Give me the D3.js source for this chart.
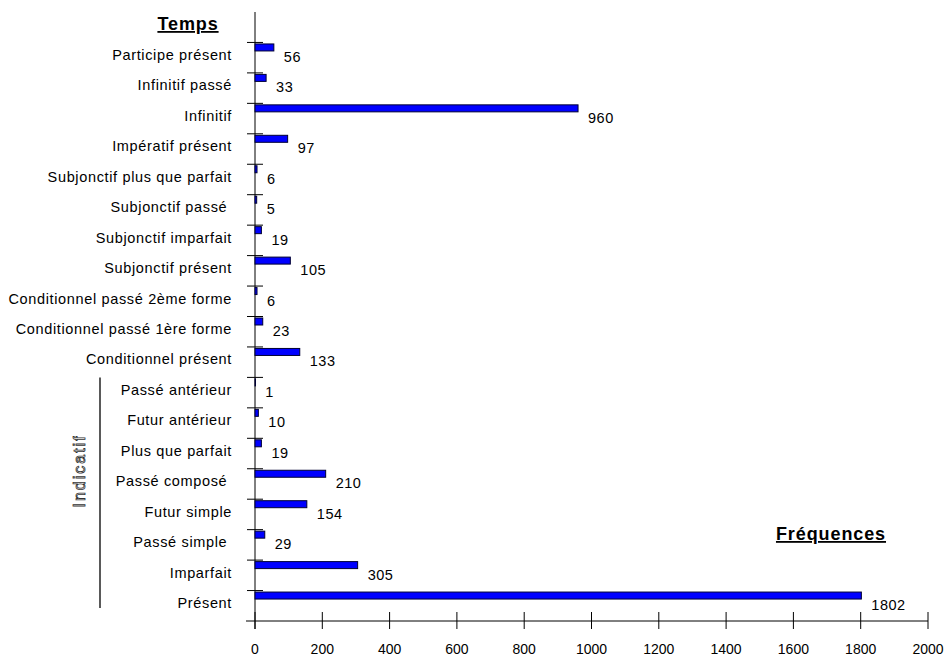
<!DOCTYPE html>
<html><head><meta charset="utf-8">
<script src="https://cdn.jsdelivr.net/npm/d3@7"></script>
<style>
body{margin:0;background:#fff;}
text{font-family:"Liberation Sans",Arial,sans-serif;}
</style></head>
<body>
<svg id="c" width="947" height="659"></svg>
<script>
// categories from bottom to top
const categories = ["Présent","Imparfait","Passé simple ","Futur simple","Passé composé ","Plus que parfait","Futur antérieur","Passé antérieur","Conditionnel présent","Conditionnel passé 1ère forme","Conditionnel passé 2ème forme","Subjonctif présent","Subjonctif imparfait","Subjonctif passé ","Subjonctif plus que parfait","Impératif présent","Infinitif","Infinitif passé","Participe présent"];
const values = [1802,305,29,154,210,19,10,1,133,23,6,105,19,5,6,97,960,33,56];
const xTicks = [0,200,400,600,800,1000,1200,1400,1600,1800,2000];

const svg = d3.select("#c");
const x0 = 255, x1 = 928, yTop = 12, yBot = 621;
const x = d3.scaleLinear().domain([0,2000]).range([x0,x1]);
// 20 bands: the 19 categories plus an empty top band
const bandKeys = categories.concat(["__top"]);
const y = d3.scaleBand().domain(bandKeys.slice().reverse()).range([yTop,yBot]).paddingInner(0).paddingOuter(0);
const bw = y.bandwidth();

// y axis line
svg.append("line").attr("x1",x0).attr("x2",x0).attr("y1",yTop).attr("y2",yBot+8).attr("stroke","#000");
// category ticks at band tops
svg.append("g").selectAll("line").data(categories).join("line")
  .attr("x1",x0-8).attr("x2",x0+8)
  .attr("y1",d=>y(d)).attr("y2",d=>y(d)).attr("stroke","#000");
// x axis
svg.append("line").attr("x1",x0-9).attr("x2",x1).attr("y1",yBot).attr("y2",yBot).attr("stroke","#000");
svg.append("g").selectAll("line").data(xTicks).join("line")
  .attr("x1",d=>x(d)).attr("x2",d=>x(d)).attr("y1",yBot-9).attr("y2",yBot+8).attr("stroke","#000");
svg.append("g").selectAll("text").data(xTicks).join("text")
  .attr("x",d=>x(d)).attr("y",654).attr("text-anchor","middle").attr("font-size",14).text(d=>d);

// bars
svg.append("g").selectAll("rect").data(categories).join("rect")
  .attr("x",x0).attr("y",(d)=>y(d)+1.5)
  .attr("width",(d,i)=>Math.max(x(values[i])-x0,0.5)).attr("height",7)
  .attr("fill","#0000ff").attr("stroke","#000033").attr("stroke-width",1);
// value labels
svg.append("g").selectAll("text").data(categories).join("text")
  .attr("x",(d,i)=>x(values[i])+10).attr("y",d=>y(d)+19.5)
  .attr("font-size",14.5).attr("letter-spacing",0.5).text((d,i)=>values[i]);
// category labels
svg.append("g").selectAll("text").data(categories).join("text")
  .attr("x",232).attr("y",d=>y(d)+17.5).attr("text-anchor","end")
  .attr("font-size",14.5).attr("letter-spacing",0.65).style("white-space","pre").text(d=>d);

// titles
svg.append("text").attr("x",188).attr("y",30).attr("text-anchor","middle")
  .attr("font-size",18).attr("letter-spacing",0.9).attr("font-weight","bold").attr("text-decoration","underline").text("Temps");
svg.append("text").attr("x",831).attr("y",540).attr("text-anchor","middle")
  .attr("font-size",18).attr("letter-spacing",0.9).attr("font-weight","bold").attr("text-decoration","underline").text("Fréquences");

// Indicatif bracket
const indTop = y("Passé antérieur"), indBot = y("Présent")+bw;
svg.append("line").attr("x1",100).attr("x2",100).attr("y1",indTop).attr("y2",608).attr("stroke","#000").attr("stroke-width",1.3);
svg.append("text").attr("transform",`translate(85,471) rotate(-90)`)
  .attr("text-anchor","middle").attr("font-size",16).attr("letter-spacing",2)
  .attr("fill","#fff").attr("stroke","#333").attr("stroke-width",0.8).text("Indicatif");
</script>
</body></html>
